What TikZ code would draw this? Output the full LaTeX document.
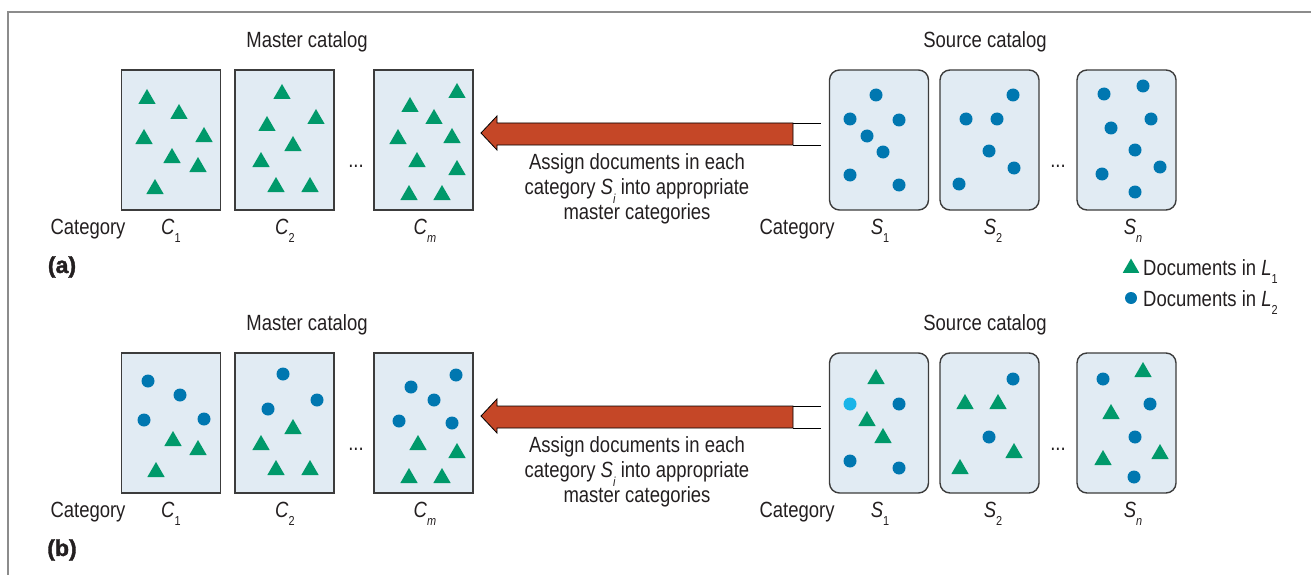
\documentclass[tikz,border=0pt]{standalone}
\usepackage{fontspec}
\setmainfont{Liberation Sans}[FakeStretch=0.84]
\newfontfamily\panelfont{Liberation Sans}[FakeBold=1.6]
\usetikzlibrary{shapes.geometric}
\definecolor{boxfill}{HTML}{E1EBF3}
\definecolor{boxline}{HTML}{3C3C3C}
\definecolor{trigreen}{HTML}{00996A}
\definecolor{dotblue}{HTML}{0077B0}
\definecolor{dotcyan}{HTML}{1AB4E8}
\definecolor{arrowred}{HTML}{C54727}
\definecolor{framegray}{HTML}{8C8C8C}
\definecolor{txt}{HTML}{231F20}
\newcommand\mysub[1]{\raisebox{-0.38em}{\fontsize{13}{13}\selectfont #1}}
\tikzset{
  ttri/.style={regular polygon, regular polygon sides=3, fill=trigreen, inner sep=0pt, minimum size=20pt},
  ddot/.style={circle, fill=dotblue, inner sep=0pt, minimum size=13pt},
  mbox/.style={draw=boxline, line width=1.4pt, fill=boxfill, minimum width=99pt, minimum height=140pt, inner sep=0pt},
  sbox/.style={mbox, rounded corners=10pt},
  lbl/.style={font=\fontsize{22}{24}\selectfont, text=txt, inner sep=0pt},
  tag/.style={font=\panelfont\bfseries\fontsize{23}{25}\selectfont, text=txt, inner sep=0pt},
  blockarrow/.style={fill=arrowred, draw=black, line width=0.8pt},
}
\begin{document}
\begin{tikzpicture}[x=1pt,y=-1pt]
\useasboundingbox (0,0) rectangle (1311,575);
\draw[framegray, line width=2pt] (8,575) -- (8,12) -- (1311,12);

% ---------- panel (a) ----------
\node[lbl] (a-mt) at (307,42) {Master catalog};
\node[lbl] (a-st) at (985,42) {Source catalog};
\node[mbox] (a-c1) at (171,140) {};
\node[mbox] (a-c2) at (284.5,140) {};
\node[mbox] (a-cm) at (423.5,140) {};
\node[sbox] (a-s1) at (879,140) {};
\node[sbox] (a-s2) at (989.5,140) {};
\node[sbox] (a-sn) at (1126.5,140) {};
\node[lbl] (a-cd) at (356,166) {...};
\node[lbl] (a-sd) at (1058,166) {...};
\node[lbl, anchor=base] (a-cat1) at (88,234) {Category};
\node[lbl, anchor=base] (a-cat2) at (797,234) {Category};
\node[lbl, anchor=base] (a-l1) at (171,234) {\textit{C}\mysub{1}};
\node[lbl, anchor=base] (a-l2) at (285,234) {\textit{C}\mysub{2}};
\node[lbl, anchor=base] (a-lm) at (425,234) {\textit{C}\mysub{\textit{m}}};
\node[lbl, anchor=base] (a-r1) at (880,234) {\textit{S}\mysub{1}};
\node[lbl, anchor=base] (a-r2) at (993,234) {\textit{S}\mysub{2}};
\node[lbl, anchor=base] (a-rn) at (1133,234) {\textit{S}\mysub{\textit{n}}};
\node[lbl, align=center, font=\fontsize{22}{25}\selectfont] (a-txt) at (637,189)
  {Assign documents in each\\category \textit{S}\mysub{\textit{i}} into appropriate\\master categories};
\node[tag] (a-tag) at (62,267) {(a)};
\coordinate (a-tip) at (481,133);
\fill[blockarrow] (a-tip) -- (497,116) -- (497,123) -- (793,123) -- (793,145) -- (497,145) -- (497,150) -- cycle;
\draw[black, line width=0.8pt] (793,123) -- (821,123) (793,145) -- (821,145);

\foreach \x/\y [count=\k] in {147/99,179/114,144/139,204/137,172/158,198/167,155/189}
  \node[ttri] (a-c1-t\k) at (\x,\y) {};
\foreach \x/\y [count=\k] in {282/94,316/119,267/126,293/146,261/162,276/187,310/187}
  \node[ttri] (a-c2-t\k) at (\x,\y) {};
\foreach \x/\y [count=\k] in {457/93,410/107,434/119,398/139,452/138,417/162,457/170,409/195,442/195}
  \node[ttri] (a-cm-t\k) at (\x,\y) {};
\foreach \x/\y [count=\k] in {876/95,850/119,899/120,867/136,883/152,850/175,899/185}
  \node[ddot] (a-s1-d\k) at (\x,\y) {};
\foreach \x/\y [count=\k] in {1013/95,966/119,997/119,989/151,1014/168,959/184}
  \node[ddot] (a-s2-d\k) at (\x,\y) {};
\foreach \x/\y [count=\k] in {1104/94,1143/86,1151/119,1111/128,1135/150,1102/174,1160/167,1135/192}
  \node[ddot] (a-sn-d\k) at (\x,\y) {};

% legend
\node[ttri, minimum size=19pt] (lg-t) at (1131,268) {};
\node[ddot, minimum size=12pt] (lg-d) at (1131,298) {};
\node[lbl, anchor=base west] (lg-t-txt) at (1143,275) {Documents in \textit{L}\mysub{1}};
\node[lbl, anchor=base west] (lg-d-txt) at (1143,306) {Documents in \textit{L}\mysub{2}};

% ---------- panel (b) ----------
\node[lbl] (b-mt) at (307,325) {Master catalog};
\node[lbl] (b-st) at (985,325) {Source catalog};
\node[mbox] (b-c1) at (171,423) {};
\node[mbox] (b-c2) at (284.5,423) {};
\node[mbox] (b-cm) at (423.5,423) {};
\node[sbox] (b-s1) at (879,423) {};
\node[sbox] (b-s2) at (989.5,423) {};
\node[sbox] (b-sn) at (1126.5,423) {};
\node[lbl] (b-cd) at (356,449) {...};
\node[lbl] (b-sd) at (1058,449) {...};
\node[lbl, anchor=base] (b-cat1) at (88,517) {Category};
\node[lbl, anchor=base] (b-cat2) at (797,517) {Category};
\node[lbl, anchor=base] (b-l1) at (171,517) {\textit{C}\mysub{1}};
\node[lbl, anchor=base] (b-l2) at (285,517) {\textit{C}\mysub{2}};
\node[lbl, anchor=base] (b-lm) at (425,517) {\textit{C}\mysub{\textit{m}}};
\node[lbl, anchor=base] (b-r1) at (880,517) {\textit{S}\mysub{1}};
\node[lbl, anchor=base] (b-r2) at (993,517) {\textit{S}\mysub{2}};
\node[lbl, anchor=base] (b-rn) at (1133,517) {\textit{S}\mysub{\textit{n}}};
\node[lbl, align=center, font=\fontsize{22}{25}\selectfont] (b-txt) at (637,472)
  {Assign documents in each\\category \textit{S}\mysub{\textit{i}} into appropriate\\master categories};
\node[tag] (b-tag) at (62,550) {(b)};
\coordinate (b-tip) at (481,416);
\fill[blockarrow] (b-tip) -- (497,399) -- (497,406) -- (793,406) -- (793,428) -- (497,428) -- (497,433) -- cycle;
\draw[black, line width=0.8pt] (793,406) -- (821,406) (793,428) -- (821,428);

\foreach \x/\y [count=\k] in {148/381,180/395,144/420,204/419}
  \node[ddot] (b-c1-d\k) at (\x,\y) {};
\foreach \x/\y [count=\k] in {173/441,198/450,156/472}
  \node[ttri] (b-c1-t\k) at (\x,\y) {};
\foreach \x/\y [count=\k] in {283/374,317/400,268/409}
  \node[ddot] (b-c2-d\k) at (\x,\y) {};
\foreach \x/\y [count=\k] in {293/429,261/445,276/470,310/470}
  \node[ttri] (b-c2-t\k) at (\x,\y) {};
\foreach \x/\y [count=\k] in {456/375,411/387,434/400,399/421,452/423}
  \node[ddot] (b-cm-d\k) at (\x,\y) {};
\foreach \x/\y [count=\k] in {418/445,457/453,409/478,442/478}
  \node[ttri] (b-cm-t\k) at (\x,\y) {};
\foreach \x/\y [count=\k] in {876/379,867/421,883/438}
  \node[ttri] (b-s1-t\k) at (\x,\y) {};
\node[ddot, fill=dotcyan] (b-s1-d1) at (850,404) {};
\foreach \x/\y [count=\k] in {899/404,850/461,899/468}
  \node[ddot] (b-s1-dd\k) at (\x,\y) {};
\foreach \x/\y [count=\k] in {1013/379,989/437}
  \node[ddot] (b-s2-d\k) at (\x,\y) {};
\foreach \x/\y [count=\k] in {965/404,998/404,1014/453,960/469}
  \node[ttri] (b-s2-t\k) at (\x,\y) {};
\foreach \x/\y [count=\k] in {1103/379,1150/404,1135/437,1134/477}
  \node[ddot] (b-sn-d\k) at (\x,\y) {};
\foreach \x/\y [count=\k] in {1143/372,1111/414,1160/454,1103/460}
  \node[ttri] (b-sn-t\k) at (\x,\y) {};
\end{tikzpicture}
\end{document}
